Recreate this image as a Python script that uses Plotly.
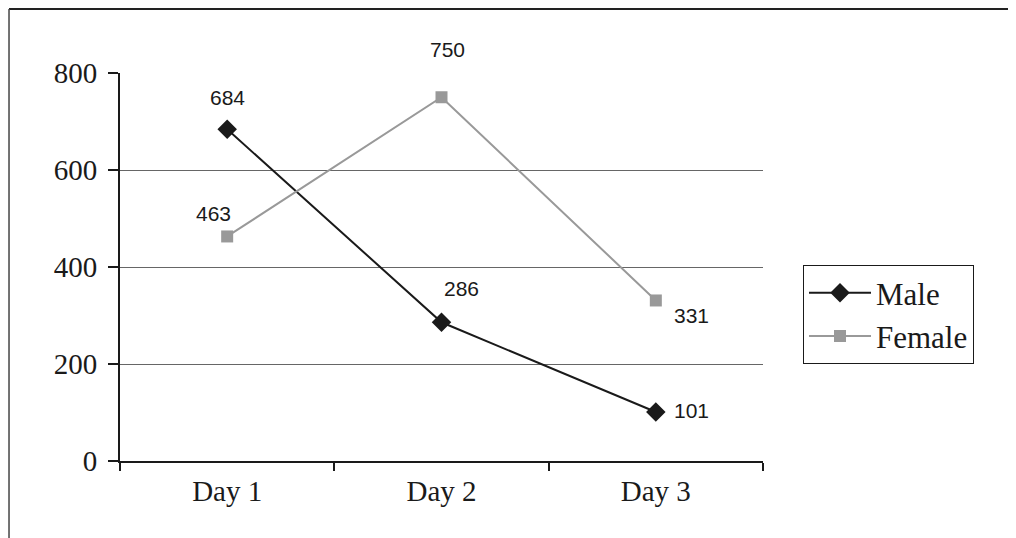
import plotly.graph_objects as go

days = ["Day 1", "Day 2", "Day 3"]
male = [684, 286, 101]
female = [463, 750, 331]
y_ticks = [0, 200, 400, 600, 800]

# label pixel offsets (style only)
male_off = [(0, 32), (20, 34), (36, 2)]
female_off = [(-14, 23), (6, 48), (36, -15)]

fig = go.Figure()
fig.add_trace(go.Scatter(
    x=days, y=male, name="Male", mode="lines+markers",
    line=dict(color="#1a1a1a", width=2),
    marker=dict(symbol="diamond", size=15, color="#1a1a1a"),
))
fig.add_trace(go.Scatter(
    x=days, y=female, name="Female", mode="lines+markers",
    line=dict(color="#999999", width=2),
    marker=dict(symbol="square", size=12, color="#999999"),
))

annotations = []
for vals, offs in ((male, male_off), (female, female_off)):
    for d, v, (dx, dy) in zip(days, vals, offs):
        annotations.append(dict(
            x=d, y=v, xref="x", yref="y", text=str(v), showarrow=False,
            xshift=dx, yshift=dy,
            font=dict(family="Liberation Sans", size=21, color="#1a1a1a"),
        ))

# outer frame: top and left edges
shapes = [
    dict(type="line", xref="paper", yref="paper", x0=-0.1726, x1=1.45,
         y0=1.165, y1=1.165, line=dict(color="#222222", width=2)),
    dict(type="line", xref="paper", yref="paper", x0=-0.1726, x1=-0.1726,
         y0=1.165, y1=-0.25, line=dict(color="#444444", width=1.5)),
]

fig.update_layout(
    width=1016, height=538,
    margin=dict(l=112, r=261, t=65, b=85),
    paper_bgcolor="white", plot_bgcolor="white",
    font=dict(family="Liberation Serif", size=29, color="#1a1a1a"),
    showlegend=True,
    legend=dict(
        x=1.0622, xanchor="left", y=0.505, yanchor="top",
        bordercolor="#1a1a1a", borderwidth=1,
        font=dict(family="Liberation Serif", size=31, color="#1a1a1a"),
        bgcolor="white", tracegroupgap=0, itemwidth=62,
    ),
    annotations=annotations,
    shapes=shapes,
    xaxis=dict(
        type="category", range=[-0.5, 2.5], tickson="boundaries",
        ticks="outside", ticklen=8, tickwidth=2, tickcolor="#1a1a1a",
        showline=True, linecolor="#1a1a1a", linewidth=2,
        showgrid=False, zeroline=False, ticklabelstandoff=3,
        tickfont=dict(family="Liberation Serif", size=29, color="#1a1a1a"),
    ),
    yaxis=dict(
        range=[0, 800], tickvals=y_ticks,
        ticks="outside", ticklen=10, tickwidth=2, tickcolor="#1a1a1a",
        showline=True, linecolor="#1a1a1a", linewidth=2,
        showgrid=True, gridcolor="#666666", gridwidth=1,
        zeroline=False, ticklabelstandoff=5,
        tickfont=dict(family="Liberation Serif", size=29, color="#1a1a1a"),
    ),
)

fig.write_html("out.html")
